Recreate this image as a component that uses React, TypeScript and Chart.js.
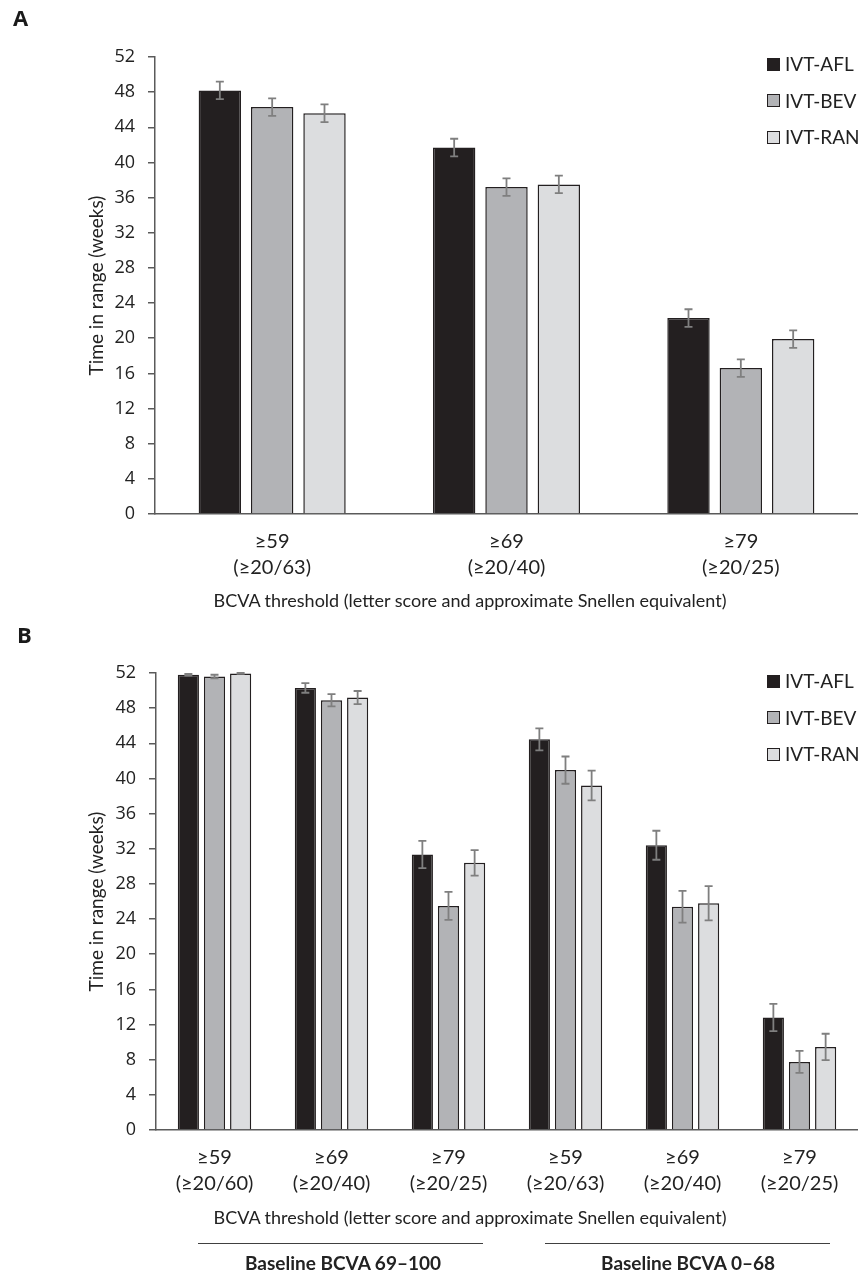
import React, { useEffect, useRef } from "react";
import { Chart, registerables } from "chart.js";

Chart.register(...registerables);

// ---------- Data ----------
const SERIES_NAMES = ["IVT-AFL", "IVT-BEV", "IVT-RAN"];

const A_LABELS = [
  ["≥59", "(≥20/63)"],
  ["≥69", "(≥20/40)"],
  ["≥79", "(≥20/25)"],
];
const A_AFL = [48.2, 41.7, 22.3];
const A_BEV = [46.3, 37.2, 16.6];
const A_RAN = [45.6, 37.5, 19.9];
const A_AFL_ERR = [1.0, 1.0, 1.0];
const A_BEV_ERR = [1.0, 1.0, 1.0];
const A_RAN_ERR = [1.0, 1.0, 1.0];

const B_LABELS = [
  ["≥59", "(≥20/60)"],
  ["≥69", "(≥20/40)"],
  ["≥79", "(≥20/25)"],
  ["≥59", "(≥20/63)"],
  ["≥69", "(≥20/40)"],
  ["≥79", "(≥20/25)"],
];
const B_AFL = [51.8, 50.3, 31.35, 44.45, 32.4, 12.8];
const B_BEV = [51.6, 48.9, 25.5, 40.95, 25.4, 7.75];
const B_RAN = [51.95, 49.2, 30.4, 39.2, 25.8, 9.45];
const B_AFL_ERR = [0.1, 0.55, 1.55, 1.25, 1.65, 1.55];
const B_BEV_ERR = [0.2, 0.7, 1.6, 1.55, 1.8, 1.25];
const B_RAN_ERR = [0.05, 0.75, 1.45, 1.7, 1.95, 1.5];

const Y_TICKS = [0, 4, 8, 12, 16, 20, 24, 28, 32, 36, 40, 44, 48, 52];
const Y_TITLE = "Time in range (weeks)";
const X_TITLE = "BCVA threshold (letter score and approximate Snellen equivalent)";
const GROUP_LABELS = ["Baseline BCVA 69–100", "Baseline BCVA 0–68"];

// ---------- Styles ----------
const FILLS = ["#231f20", "#b2b3b6", "#dcdddf"];
const BORDER = "#231f20";
const AXIS = "#5a5a5a";
const TEXT = "#222222";
const ERR = "#7f7f7f";
const LABEL_FONT = "Lato, 'Open Sans', sans-serif";
const TICK_FONT = "'Open Sans', sans-serif";

const errorBarPlugin = {
  id: "errorBars",
  afterDatasetsDraw(chart: any, _args: any, opts: any) {
    const errs: number[][] = opts.errors || [];
    const ys = chart.scales.y;
    const ctx = chart.ctx;
    ctx.save();
    ctx.strokeStyle = ERR;
    ctx.lineWidth = 1.8;
    chart.data.datasets.forEach((ds: any, i: number) => {
      const meta = chart.getDatasetMeta(i);
      meta.data.forEach((bar: any, j: number) => {
        const v = ds.data[j];
        const e = errs[i] ? errs[i][j] : 0;
        if (!e) return;
        const yt = ys.getPixelForValue(v + e);
        const yb = ys.getPixelForValue(v - e);
        const x = bar.x;
        ctx.beginPath();
        ctx.moveTo(x, yt);
        ctx.lineTo(x, yb);
        ctx.moveTo(x - 4, yt);
        ctx.lineTo(x + 4, yt);
        ctx.moveTo(x - 4, yb);
        ctx.lineTo(x + 4, yb);
        ctx.stroke();
      });
    });
    ctx.restore();
  },
};

type PanelProps = {
  width: number;
  height: number;
  labels: string[][];
  values: number[][];
  errors: number[][];
  yAxisWidth: number;
  padTop: number;
  xAxisHeight: number;
};

function BarPanel(p: PanelProps) {
  const ref = useRef<HTMLCanvasElement | null>(null);
  useEffect(() => {
    if (!ref.current) return;
    const chart = new Chart(ref.current, {
      type: "bar",
      data: {
        labels: p.labels,
        datasets: SERIES_NAMES.map((name, i) => ({
          label: name,
          data: p.values[i],
          backgroundColor: FILLS[i],
          borderColor: BORDER,
          borderWidth: 1.5,
          categoryPercentage: 0.67,
          barPercentage: 0.81,
        })),
      },
      options: {
        animation: false,
        responsive: false,
        maintainAspectRatio: false,
        layout: { padding: { top: p.padTop, left: 0, right: 0, bottom: 0 } },
        plugins: {
          legend: { display: false },
          tooltip: { enabled: false },
          errorBars: { errors: p.errors },
        } as any,
        scales: {
          x: {
            grid: { display: false, drawTicks: false },
            border: { display: true, color: AXIS, width: 1.5 },
            ticks: {
              color: TEXT,
              padding: 15,
              maxRotation: 0,
              autoSkip: false,
              font: { family: LABEL_FONT, size: 20, lineHeight: 1.3 },
            },
            title: { display: false },
            afterFit: (axis: any) => {
              axis.height = p.xAxisHeight;
            },
          },
          y: {
            min: 0,
            max: 52,
            afterBuildTicks: (axis: any) => {
              axis.ticks = Y_TICKS.map((v) => ({ value: v }));
            },
            grid: {
              display: true,
              drawOnChartArea: false,
              drawTicks: true,
              tickLength: 7,
              color: AXIS,
              lineWidth: 1.5,
            },
            border: { display: true, color: AXIS, width: 1.5 },
            ticks: {
              color: TEXT,
              padding: 13,
              font: { family: TICK_FONT, size: 18 },
            },
            title: {
              display: true,
              text: Y_TITLE,
              color: TEXT,
              font: { family: LABEL_FONT, size: 19, lineHeight: 1.2 },
              padding: { top: 85, bottom: 0 },
            },
            afterFit: (axis: any) => {
              axis.width = p.yAxisWidth;
            },
          },
        },
      },
      plugins: [errorBarPlugin],
    } as any);
    return () => chart.destroy();
  }, []);
  return (
    <canvas
      ref={ref}
      width={p.width}
      height={p.height}
      style={{ display: "block", width: p.width, height: p.height }}
    />
  );
}

function Legend({ top }: { top: number }) {
  return (
    <div style={{ position: "absolute", left: 767, top, fontFamily: LABEL_FONT }}>
      {SERIES_NAMES.map((n, i) => (
        <div
          key={n}
          style={{
            position: "absolute",
            left: 0,
            top: i * 36.5 - 12,
            height: 24,
            display: "flex",
            alignItems: "center",
            whiteSpace: "nowrap",
          }}
        >
          <span
            style={{
              display: "inline-block",
              width: 13,
              height: 13,
              boxSizing: "border-box",
              background: FILLS[i],
              border: `1.5px solid ${BORDER}`,
              marginRight: 5,
            }}
          />
          <span style={{ fontSize: 19, color: TEXT, lineHeight: "24px" }}>{n}</span>
        </div>
      ))}
    </div>
  );
}

export default function App() {
  const panelLetter: React.CSSProperties = {
    position: "absolute",
    fontFamily: "'Open Sans', sans-serif",
    fontWeight: 700,
    fontSize: 22,
    lineHeight: "22px",
    color: "#1a1a1a",
  };
  const xTitle: React.CSSProperties = {
    position: "absolute",
    left: 170,
    width: 600,
    textAlign: "center",
    fontFamily: LABEL_FONT,
    fontSize: 18,
    lineHeight: "24px",
    color: TEXT,
    whiteSpace: "nowrap",
  };
  const groupLabel: React.CSSProperties = {
    position: "absolute",
    top: 1251,
    width: 300,
    textAlign: "center",
    fontFamily: LABEL_FONT,
    fontWeight: 700,
    fontSize: 19,
    lineHeight: "24px",
    color: TEXT,
  };
  return (
    <div
      style={{
        position: "absolute",
        left: 0,
        top: 0,
        width: 858,
        height: 1273,
        background: "#ffffff",
        overflow: "hidden",
      }}
    >
      <div style={{ position: "absolute", left: 0, top: 0 }}>
        <BarPanel
          width={858}
          height={620}
          labels={A_LABELS}
          values={[A_AFL, A_BEV, A_RAN]}
          errors={[A_AFL_ERR, A_BEV_ERR, A_RAN_ERR]}
          yAxisWidth={155}
          padTop={57}
          xAxisHeight={106}
        />
      </div>
      <div style={{ position: "absolute", left: 0, top: 620 }}>
        <BarPanel
          width={858}
          height={653}
          labels={B_LABELS}
          values={[B_AFL, B_BEV, B_RAN]}
          errors={[B_AFL_ERR, B_BEV_ERR, B_RAN_ERR]}
          yAxisWidth={156}
          padTop={53}
          xAxisHeight={143}
        />
      </div>
      <div style={{ ...panelLetter, left: 13, top: 6 }}>A</div>
      <div style={{ ...panelLetter, left: 17, top: 623 }}>B</div>
      <div style={{ ...xTitle, top: 588 }}>{X_TITLE}</div>
      <div style={{ ...xTitle, top: 1205 }}>{X_TITLE}</div>
      <Legend top={64} />
      <Legend top={681} />
      <div style={{ position: "absolute", left: 198, top: 1243, width: 285, height: 1, background: "#404040" }} />
      <div style={{ position: "absolute", left: 545, top: 1243, width: 285, height: 1, background: "#404040" }} />
      <div style={{ ...groupLabel, left: 343 - 150 }}>{GROUP_LABELS[0]}</div>
      <div style={{ ...groupLabel, left: 688 - 150 }}>{GROUP_LABELS[1]}</div>
    </div>
  );
}
